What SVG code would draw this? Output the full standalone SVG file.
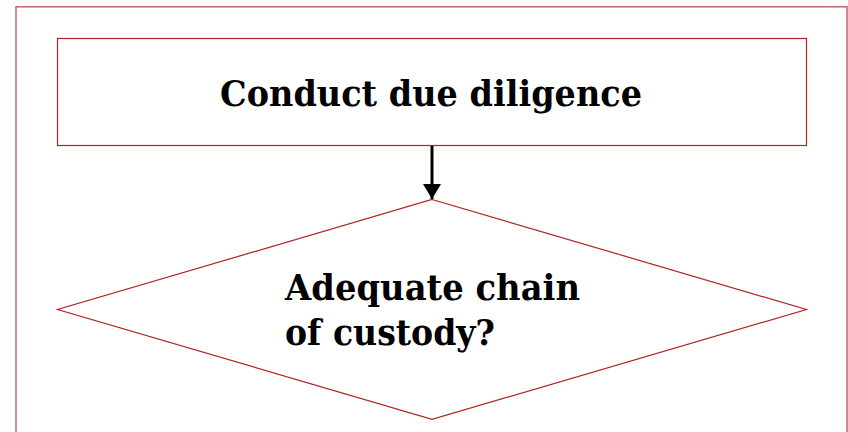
<svg xmlns="http://www.w3.org/2000/svg" width="848" height="432" viewBox="0 0 848 432">
<style>
.frame{fill:none;stroke:#c46464;stroke-width:1.5}
.shape{fill:#fff;stroke:#b22222;stroke-width:1.2}
.t{font-family:"DejaVu Serif",serif;font-weight:bold;font-size:35px;fill:#000}
.conn{stroke:#000;stroke-width:3;fill:none}
</style>
<defs>
<marker id="ah" markerWidth="5" markerHeight="6" refX="5" refY="3" orient="auto" markerUnits="strokeWidth">
<path d="M0,0 L5,3 L0,6 Z" fill="#000"/>
</marker>
</defs>
<rect width="848" height="432" fill="#fff"/>
<rect class="frame" x="16" y="6.8" width="831" height="440"/>
<g id="n1">
<rect class="shape" x="57.5" y="38.5" width="749" height="107"/>
<text class="t" x="220" y="106" textLength="422" lengthAdjust="spacingAndGlyphs">Conduct due diligence</text>
</g>
<g id="n2">
<polygon class="shape" points="432,199.5 806.5,309.5 432,419.3 57.5,309.5"/>
<text class="t" x="285" y="300" textLength="295" lengthAdjust="spacingAndGlyphs">Adequate chain</text>
<text class="t" x="285" y="345" textLength="210" lengthAdjust="spacingAndGlyphs">of custody?</text>
</g>
<g id="connectors">
<line class="conn" x1="432" y1="146" x2="432" y2="199" marker-end="url(#ah)"/>
</g>
</svg>
